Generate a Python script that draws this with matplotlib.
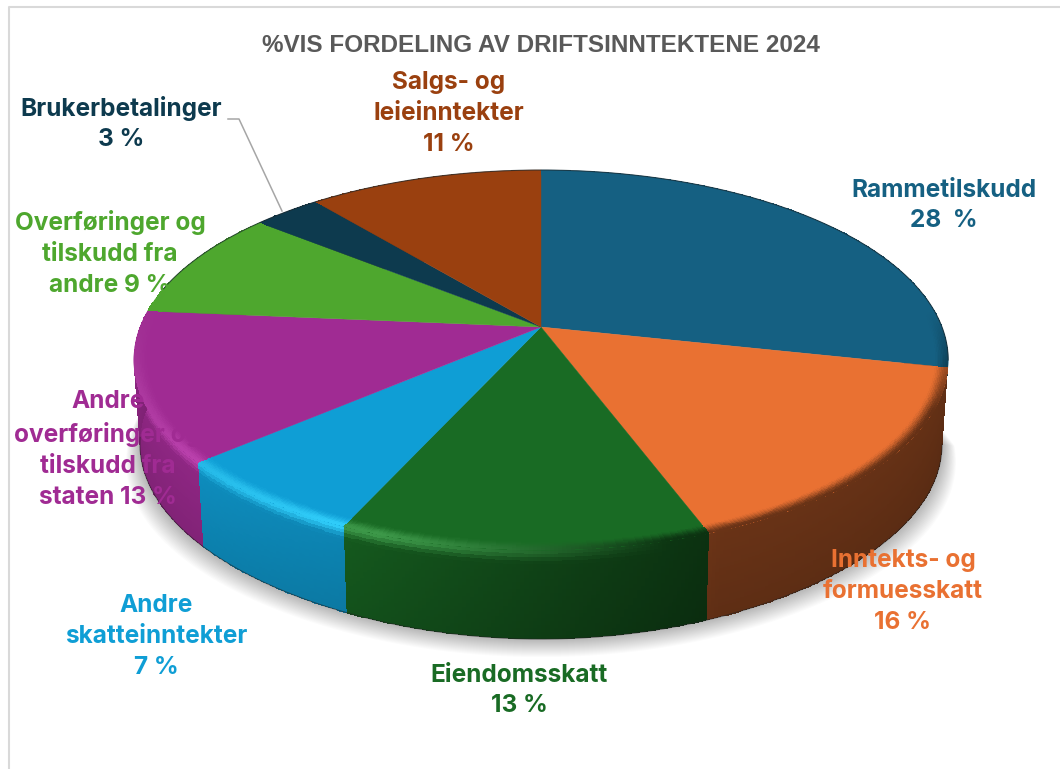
import matplotlib.pyplot as plt
import numpy as np
from matplotlib.colors import to_rgb

categories = [
    "Rammetilskudd",
    "Inntekts- og formuesskatt",
    "Eiendomsskatt",
    "Andre skatteinntekter",
    "Andre overføringer og tilskudd fra staten",
    "Overføringer og tilskudd fra andre",
    "Brukerbetalinger",
    "Salgs- og leieinntekter",
]
values = [28.4, 15.9, 12.5, 6.9, 12.7, 9.4, 3.2, 11.0]
colors = ["#156082", "#E97132", "#196B24", "#0F9ED5", "#A02B93", "#4EA72E", "#0D3A4E", "#9A400F"]
title = "%VIS FORDELING AV DRIFTSINNTEKTENE 2024"

CX, CY = 541, 327
RX, RY, K = 401, 184.3, 0.174
FONT = "Inter"


def project(theta, r=1.0):
    xx = r * np.sin(np.radians(theta))
    yy = r * np.cos(np.radians(theta))
    s = 1 / (1 + K * yy)
    return CX + RX * xx * s, CY - RY * yy * s


def project_low(theta, v=1.0):
    # v=0 is the top rim, v=1 the lower edge of the wall
    x, y = project(theta)
    front = np.clip(-np.cos(np.radians(theta)), 0, 1)
    depth = 84 + 5 * front**8
    return CX + (x - CX) * (1 - 0.015 * v), y + depth * v


def smooth(t):
    return t * t * (3 - 2 * t)


def wall_shade(theta):
    return np.interp(theta, [100, 158, 175, 205, 230, 280], [0.42, 0.45, 0.58, 0.85, 0.9, 0.88])


fig = plt.figure(figsize=(10.6, 7.69), dpi=100)
ax = fig.add_axes([0, 0, 1, 1])
ax.set_xlim(0, 1060)
ax.set_ylim(769, 0)
ax.axis("off")

# frame of the pasted chart
ax.plot([9, 9, 1060], [769, 7, 7], color="#d9d9d9", lw=1.5, zorder=1)

# soft shadow under the pie
theta_all = np.linspace(95, 285, 300)
for k in range(1, 19):
    sx, sy = project_low(theta_all)
    ax.fill(CX + (sx - CX) * (1 + k / 520), sy + k, color="black", alpha=0.014, lw=0, zorder=1.5)

edges = np.concatenate([[0], np.cumsum(values)]) / sum(values) * 360

for i, col in enumerate(colors):
    base = np.array(to_rgb(col))
    light = np.clip(base * 1.12 + 0.13, 0, 1)
    th = np.linspace(edges[i], edges[i + 1], max(int(edges[i + 1] - edges[i]) * 2, 4) + 1)
    mid = (th[:-1] + th[1:]) / 2
    shade = wall_shade(mid)[:, None]
    wall = base[None, :] * shade
    glow = np.interp(mid, [165, 200, 240, 280], [0, 1, 0.5, 0.2])[:, None]
    edge = wall * (1 - glow) + light[None, :] * glow
    amount = np.interp(mid, [85, 115, 255, 285], [0, 1, 1, 0])[:, None]

    # wall, darker towards the foot, fading from the rim colour
    v = np.linspace(0, 1, 26)
    wx = np.array([project_low(th, a)[0] for a in v])
    wy = np.array([project_low(th, a)[1] for a in v])
    vm = (v[:-1] + v[1:]) / 2
    rgb = np.zeros((len(vm), len(mid), 3))
    for row, a in enumerate(vm):
        f = smooth(np.clip(a / 0.16, 0, 1))
        rgb[row] = (edge * (1 - f) + wall * f) * (1 - 0.1 * a)
    ax.pcolormesh(wx, wy, rgb, shading="flat", antialiased=False, zorder=2)

    # top face
    tx, ty = project(th)
    ax.fill(np.r_[CX, tx], np.r_[CY, ty], color=col, lw=0.3, ec=col, zorder=3)

    # soft band along the rim of the top face
    r = np.linspace(0.965, 1, 10)
    bx = np.array([project(th, a)[0] for a in r])
    by = np.array([project(th, a)[1] for a in r])
    rm = (r[:-1] + r[1:]) / 2
    rgb = np.zeros((len(rm), len(mid), 3))
    for row, a in enumerate(rm):
        f = smooth((a - 0.965) / 0.035) * amount
        rgb[row] = base[None, :] * (1 - f) + edge * f
    ax.pcolormesh(bx, by, rgb, shading="flat", antialiased=False, zorder=4)

# thin dark outlines
th = np.linspace(-78, 100, 300)
ax.plot(*project(th), color="#1c2a30", lw=0.8, alpha=0.7, zorder=5)
th = np.linspace(100, 262, 300)
ax.plot(*project_low(th), color="#222222", lw=0.7, alpha=0.6, zorder=2.5)

ax.text(541, 45, title, color="#595959", fontsize=17.5, fontweight="bold",
        family="Liberation Sans", ha="center", va="center", zorder=6)

# leader for Brukerbetalinger
ax.plot([228, 239, 282], [119, 119, 211], color="#a6a6a6", lw=1.1, zorder=6)


def label(x, y, text, col):
    ax.text(x, y + 1.5, text, color=col, fontsize=17.6, fontweight="bold", family=FONT,
            ha="center", va="center", linespacing=1.43, zorder=7)


label(944, 204, "Rammetilskudd\n28  %", colors[0])
label(903, 590, "Inntekts- og\nformuesskatt\n16 %", colors[1])
label(519, 689, "Eiendomsskatt\n13 %", colors[2])
label(156, 635, "Andre\nskatteinntekter\n7 %", colors[3])
label(108, 448, "Andre\noverføringer og\ntilskudd fra\nstaten 13 %", colors[4])
label(110, 252, "Overføringer og\ntilskudd fra\nandre 9 %", colors[5])
label(121, 122, "Brukerbetalinger\n3 %", colors[6])
label(449, 112, "Salgs- og\nleieinntekter\n11 %", colors[7])

fig.savefig("out.png", dpi=100)
